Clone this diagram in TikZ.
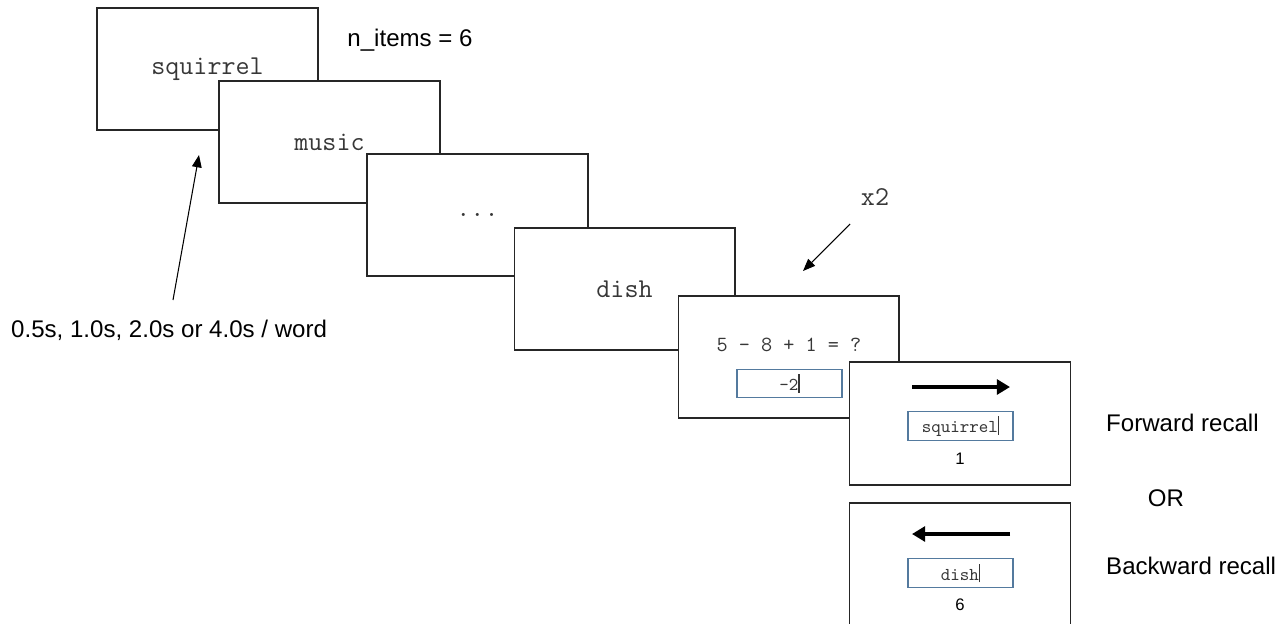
\documentclass[tikz,border=0pt]{standalone}
\usepackage{fontspec}
\setmainfont{Liberation Sans}
\usetikzlibrary{arrows.meta, positioning}
\definecolor{fieldBlue}{RGB}{84, 122, 158}
\definecolor{wordGrey}{RGB}{55, 55, 55}

\tikzset{
  screen/.style={draw=black!85, fill=white, line width=0.6pt, minimum width=4.42cm, minimum height=2.44cm, inner sep=0pt},
  word/.style={font=\ttfamily\fontsize{15.5}{18}\selectfont, text=wordGrey},
  field/.style={draw=fieldBlue, fill=white, line width=0.7pt, minimum width=2.1cm, minimum height=0.57cm, inner sep=0pt,
    font=\ttfamily\fontsize{10.3}{12}\selectfont, text=wordGrey},
  note/.style={font=\fontsize{13.7}{16}\selectfont},
  thinarrow/.style={-{Triangle[length=7pt, width=5.5pt]}, line width=0.6pt},
  bigarrow/.style={-{Triangle[length=7.5pt, width=8.5pt]}, line width=2.4pt}
}
\newcommand{\cursor}{\rule[-0.3ex]{0.6pt}{2.4ex}}

\begin{document}
\begin{tikzpicture}[x=0.02cm, y=-0.02cm]
        \useasboundingbox (0,0) rectangle (1288,623);
        % word screens
        \node[screen, word] (sq) at (207.5,69) {squirrel};
        \node[screen, word] (mu) at (329.5,142) {music};
        \node[screen, word] (dots) at (477.5,215) {...};
        \node[screen, word] (di) at (624.5,289) {dish};
        \node[note] (nitems) at (410,40) {n\_items = 6};
        % distractor
        \node[screen] (math) at (788.5,357) {};
        \node[font=\ttfamily\fontsize{12.3}{14}\selectfont, text=wordGrey] (eq) at (789,345) {5 - 8 + 1 = ?};
        \node[field] (ans) at (789.5,383.5) {-2\cursor};
        \node[word] (rep) at (875,197) {x2};
        % recall screens
        \node[screen, minimum height=2.46cm] (fwd) at (960,423.5) {};
        \draw[bigarrow] (912,387) -- (1010,387);
        \node[field] (fwdin) at (960.5,426) {squirrel\cursor};
        \node[font=\fontsize{9.5}{11}\selectfont] (one) at (960,459) {1};
        \node[screen, minimum height=2.46cm] (bwd) at (960,564.5) {};
        \draw[bigarrow] (1010,534) -- (912,534);
        \node[field] (bwdin) at (960.5,573) {dish\cursor};
        \node[font=\fontsize{9.5}{11}\selectfont] (six) at (960,605) {6};
        \node[note, anchor=west] (fr) at (1100,423) {Forward recall};
        \node[note] (or) at (1166,498) {OR};
        \node[note, anchor=west] (br) at (1100,566) {Backward recall};
        % timing
        \node[note, anchor=west] (timing) at (5,330) {0.5s, 1.0s, 2.0s or 4.0s / word};
        \coordinate (t1) at (173,300);
        \coordinate (t2) at (199,155);
        \draw[thinarrow] (t1) -- (t2);
        \coordinate (x2a) at (850,224);
        \coordinate (x2b) at (803,271);
        \draw[thinarrow] (x2a) -- (x2b);
    \end{tikzpicture}
\end{document}
